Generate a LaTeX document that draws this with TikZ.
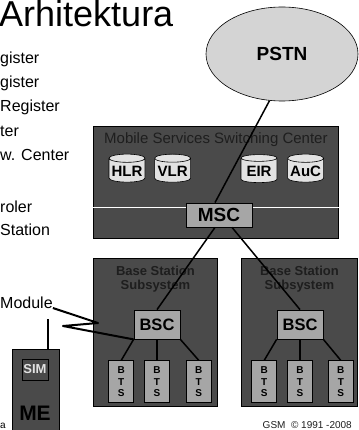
\documentclass[tikz,border=0pt]{standalone}
\usepackage{fontspec}
\setmainfont{Liberation Sans}
\usepackage{xcolor}
\usepackage{tikz}
\usetikzlibrary{positioning,shapes.geometric}

\definecolor{blockgray}{HTML}{4A4A4A}
\definecolor{boxgray}{HTML}{A6A6A6}
\definecolor{dbgray}{HTML}{E2E2E2}
\definecolor{pstngray}{HTML}{D4D4D4}
\definecolor{inkgray}{HTML}{1E1E1E}
\newcommand{\pxsize}[1]{\fontsize{#1}{#1}\selectfont}

\tikzset{
  block/.style={draw=black, fill=blockgray, line width=0.8pt, anchor=north west, inner sep=0},
  ctrl/.style={draw=black, fill=boxgray, line width=0.8pt, inner sep=0, font=\bfseries\pxsize{19}},
  bts/.style={draw=black, fill=boxgray, line width=0.8pt, inner sep=0, minimum width=25pt, minimum height=42pt,
    align=center, font=\bfseries\fontsize{10}{11.5}\selectfont},
  db/.style={cylinder, shape border rotate=90, aspect=0.25, draw=black, fill=dbgray, line width=0.6pt,
    minimum width=36pt, minimum height=28pt, inner sep=1pt, font=\bfseries\pxsize{15}},
  bsstitle/.style={inner sep=0, align=center, text=inkgray, font=\bfseries\fontsize{13}{14.5}\selectfont},
  side/.style={anchor=base west, inner sep=0, font=\pxsize{16}},
  wire/.style={line width=1.5pt}
}

\begin{document}
\begin{tikzpicture}[x=1pt, y=-1pt]
        \useasboundingbox[fill=white] (0,0) rectangle (358,430);

        \node[anchor=base west, inner sep=0, font=\pxsize{36}] (T) at (-1,27) {Arhitektura};
        \node[side] (L1) at (0,64) {gister};
        \node[side] (L2) at (0,88) {gister};
        \node[side] (L3) at (0,112) {Register};
        \node[side] (L4) at (0,137) {ter};
        \node[side] (L5) at (0,161) {w. Center};
        \node[side] (L6) at (0,212) {roler};
        \node[side] (L7) at (0,235) {Station};
        \node[side] (MOD) at (0,308) {Module};

        \node[ellipse, draw=black, fill=pstngray, line width=0.6pt, minimum width=152pt, minimum height=94pt,
          font=\bfseries\pxsize{19}] (PSTN) at (282,54) {PSTN};

        \node[block, minimum width=245pt, minimum height=112pt] (MSB) at (93,126) {};
        \node[inner sep=0, text=inkgray, font=\pxsize{15}, below=6pt of MSB.north] (MT) {Mobile Services Switching Center};
        \node[db] (HLR) at (127,171) {HLR};
        \node[db, right=9pt of HLR] (VLR) {VLR};
        \node[db] (EIR) at (259,171) {EIR};
        \node[db, right=10pt of EIR] (AUC) {AuC};
        \draw[white, line width=1pt] ([yshift=31pt]MSB.south west) -- ([yshift=31pt]MSB.south east);
        \node[ctrl, minimum width=66pt, minimum height=24pt] (MSC) at (219,215) {MSC};

        \node[block, minimum width=124pt, minimum height=148pt] (BSS1) at (93,258) {};
        \node[block, minimum width=116pt, minimum height=148pt] (BSS2) at (241,258) {};
        \node[bsstitle, below=7.5pt of BSS1.north] (ST1) {Base Station\\Subsystem};
        \node[bsstitle, below=7.5pt of BSS2.north] (ST2) {Base Station\\Subsystem};
        \node[ctrl, minimum width=46pt, minimum height=29pt, font=\bfseries\pxsize{16.5}] (BSC1) at (157,324.5) {BSC};
        \node[ctrl, minimum width=46pt, minimum height=29pt, font=\bfseries\pxsize{16.5}] (BSC2) at (300,324.5) {BSC};
        \node[bts, below=21pt of BSC1] (B12) {B\\T\\S};
        \node[bts, left=10pt of B12] (B11) {B\\T\\S};
        \node[bts, right=16pt of B12] (B13) {B\\T\\S};
        \node[bts, below=21pt of BSC2] (B22) {B\\T\\S};
        \node[bts, left=10pt of B22] (B21) {B\\T\\S};
        \node[bts, right=15pt of B22] (B23) {B\\T\\S};

        \node[block, minimum width=47pt, minimum height=90pt] (ME) at (12,349) {};
        \node[draw=black, fill=blockgray, line width=0.8pt, inner sep=0, minimum width=26pt, minimum height=21pt,
          text=dbgray, font=\bfseries\pxsize{13}] (SIM) at (35,369.5) {SIM};
        \node[anchor=base, inner sep=0, font=\bfseries\pxsize{21}] (MET) at (35,420) {ME};
        \coordinate (ANT) at (48,319);
        \coordinate (Z1) at (98,323);
        \coordinate (Z2) at (63,326);

        \node[anchor=base west, inner sep=0, font=\pxsize{10}] (FA) at (0,428) {a};
        \node[anchor=base east, inner sep=0, text=inkgray, font=\pxsize{10}] (FOOT) at (352,428) {GSM\ \ © 1991 -2008};

        \path[wire]
          (PSTN.255) edge ([xshift=-4pt]MSC.north)
          ([xshift=-4pt]MSC.south) edge (BSC1.north)
          ([xshift=13pt]MSC.south) edge (BSC2.north)
          (BSC1.south west) edge (B11.north)
          (BSC1) edge (B12)
          (BSC1.south east) edge (B13.north)
          (BSC2.south west) edge (B21.north)
          (BSC2) edge (B22)
          (BSC2.south east) edge (B23.north)
          (ANT) edge (ANT |- ME.north);
        \draw[line width=2pt, line join=round] (MOD.base east) -- (Z1) -- (Z2) -- (BSC1.south west);
\end{tikzpicture}
\end{document}
